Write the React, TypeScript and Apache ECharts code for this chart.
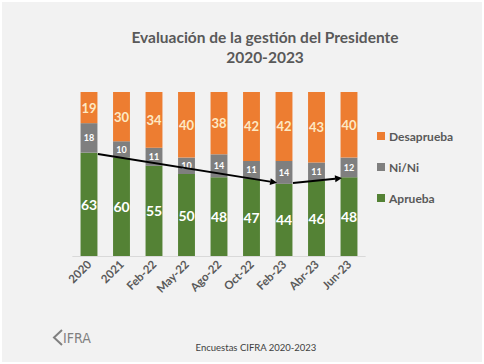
import React, { useEffect, useRef } from "react";
import * as echarts from "echarts";

const categories = ["2020", "2021", "Feb-22", "May-22", "Ago-22", "Oct-22", "Feb-23", "Abr-23", "Jun-23"];
const aprueba = [63, 60, 55, 50, 48, 47, 44, 46, 48];
const nini = [18, 10, 11, 10, 14, 11, 14, 11, 12];
const desaprueba = [19, 30, 34, 40, 38, 42, 42, 43, 40];
const trendPoints = ["2020", "Feb-23", "Jun-23"];

const TXT = "#595959";
const FONT = "Lato";

export default function App() {
  const ref = useRef<HTMLDivElement>(null);
  useEffect(() => {
    if (!ref.current) return;
    const chart = echarts.init(ref.current, undefined, { renderer: "svg" });
    const idx = trendPoints.map((c) => categories.indexOf(c));
    const segments: number[][] = [];
    for (let i = 0; i < idx.length - 1; i++) {
      segments.push([idx[i], aprueba[idx[i]], idx[i + 1], aprueba[idx[i + 1]]]);
    }
    const option: any = {
      animation: false,
      backgroundColor: "#f2f2f2",
      textStyle: { fontFamily: FONT },
      title: {
        text: "Evaluación de la gestión del Presidente\n2020-2023",
        left: 260,
        top: 22,
        textAlign: "center",
        textStyle: { fontSize: 15.5, fontWeight: "bold", color: TXT, lineHeight: 20, fontFamily: FONT },
      },
      legend: {
        orient: "vertical",
        left: 372,
        top: 125,
        itemGap: 19,
        itemWidth: 8,
        itemHeight: 8,
        icon: "rect",
        data: ["Desaprueba", "Ni/Ni", "Aprueba"],
        textStyle: { fontSize: 12, fontWeight: "bold", color: TXT, fontFamily: FONT, padding: [0, 0, 0, -1] },
      },
      grid: { left: 72.75, right: 118.75, top: 92, bottom: 108 },
      xAxis: {
        type: "category",
        data: categories,
        axisLine: { lineStyle: { color: "#d9d9d9" } },
        axisTick: { show: false },
        axisLabel: { rotate: 45, fontSize: 11.5, fontWeight: "bold", color: TXT, margin: 6, interval: 0, fontFamily: FONT },
      },
      yAxis: { type: "value", min: 0, max: 100, show: false, splitLine: { show: false } },
      series: [
        {
          name: "Aprueba",
          type: "bar",
          stack: "t",
          barWidth: "52%",
          data: aprueba,
          itemStyle: { color: "#548235" },
          label: { show: true, position: "inside", color: "#ffffff", fontSize: 14, fontWeight: "bold", fontFamily: FONT },
        },
        {
          name: "Ni/Ni",
          type: "bar",
          stack: "t",
          data: nini,
          itemStyle: { color: "#7f7f7f" },
          label: { show: true, position: "inside", color: "#ffffff", fontSize: 9, fontWeight: "bold", fontFamily: FONT },
        },
        {
          name: "Desaprueba",
          type: "bar",
          stack: "t",
          data: desaprueba,
          itemStyle: { color: "#ed7d31" },
          label: { show: true, position: "inside", color: "#fde9c4", fontSize: 13, fontWeight: "bold", fontFamily: FONT },
        },
        {
          name: "trend",
          type: "custom",
          coordinateSystem: "cartesian2d",
          encode: { x: [0, 2], y: [1, 3] },
          data: segments,
          z: 10,
          renderItem: (params: any, api: any) => {
            const p0 = api.coord([api.value(0), api.value(1)]);
            const p1 = api.coord([api.value(2), api.value(3)]);
            const dx = p1[0] - p0[0];
            const dy = p1[1] - p0[1];
            const len = Math.sqrt(dx * dx + dy * dy);
            const ux = dx / len;
            const uy = dy / len;
            const s = [p0[0] + ux * 9, p0[1] + uy * 9];
            const e = [p1[0] - ux * 7, p1[1] - uy * 7];
            const ah = 7;
            const aw = 3.5;
            const b = [e[0] - ux * ah, e[1] - uy * ah];
            return {
              type: "group",
              children: [
                {
                  type: "line",
                  shape: { x1: s[0], y1: s[1], x2: b[0], y2: b[1] },
                  style: { stroke: "#000", lineWidth: 2 },
                },
                {
                  type: "polygon",
                  shape: {
                    points: [
                      [e[0], e[1]],
                      [b[0] - uy * aw, b[1] + ux * aw],
                      [b[0] + uy * aw, b[1] - ux * aw],
                    ],
                  },
                  style: { fill: "#000" },
                },
              ],
            };
          },
        },
      ],
      graphic: [
        {
          type: "rect",
          shape: { x: 0, y: 0, width: 484, height: 364 },
          style: { fill: "none", stroke: "#ffffff", lineWidth: 4 },
          silent: true,
        },
        {
          type: "text",
          x: 256,
          y: 347,
          style: {
            text: "Encuestas CIFRA 2020-2023",
            fontSize: 9.5,
            fill: "#404040",
            fontFamily: FONT,
            textAlign: "center",
            textVerticalAlign: "middle",
          },
        },
        {
          type: "polyline",
          shape: { points: [[62, 330], [54, 337.5], [62, 345]] },
          style: { stroke: "#808080", lineWidth: 2, fill: "none" },
        },
        {
          type: "text",
          x: 63,
          y: 338,
          style: {
            text: "IFRA",
            fontSize: 14,
            fill: "#808080",
            fontFamily: "DejaVu Sans Condensed",
            textVerticalAlign: "middle",
          },
        },
      ],
    };
    chart.setOption(option);
    return () => chart.dispose();
  }, []);
  return (
    <div
      ref={ref}
      style={{ position: "fixed", left: 0, top: 0, width: 484, height: 364 }}
    />
  );
}
